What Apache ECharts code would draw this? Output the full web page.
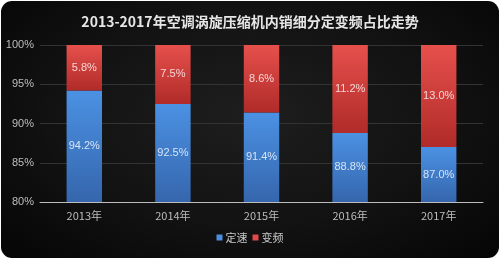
<!DOCTYPE html>
<html><head><meta charset="utf-8">
<script src="https://cdn.jsdelivr.net/npm/echarts@6/dist/echarts.min.js"></script>
<style>
html,body{margin:0;padding:0;background:#fff;}
#wrap{position:absolute;left:1px;top:1px;width:498px;height:257px;border-radius:11px;overflow:hidden;
background:radial-gradient(ellipse at 50% 45%, #1e1e1e 0%, #121212 55%, #050505 100%);}
#c{width:498px;height:257px;}
</style></head>
<body><div id="wrap"><div id="c"></div></div>
<script>
const categories = ['2013年','2014年','2015年','2016年','2017年'];
const fixedSpeed = [94.2, 92.5, 91.4, 88.8, 87.0];
const inverter = [5.8, 7.5, 8.6, 11.2, 13.0];
const seriesNames = ['定速','变频'];

const chart = echarts.init(document.getElementById('c'), null, {renderer:'canvas'});
const blueGrad = new echarts.graphic.LinearGradient(0,0,0,1,[{offset:0,color:'#4b91e3'},{offset:1,color:'#3566ad'}]);
const redGrad = new echarts.graphic.LinearGradient(0,0,0,1,[{offset:0,color:'#e6504c'},{offset:1,color:'#b02b29'}]);
chart.setOption({
  backgroundColor:'transparent',
  animation:false,
  title:{text:'2013-2017年空调涡旋压缩机内销细分定变频占比走势',left:'center',top:9,
    textStyle:{color:'#e6e6e6',fontSize:14,fontWeight:'bold',fontFamily:'Noto Sans CJK SC'}},
  legend:{bottom:10,left:'center',itemWidth:6,itemHeight:6,itemGap:5,icon:'rect',
    textStyle:{color:'#c8c8c8',fontSize:11,fontFamily:'Noto Sans CJK SC',padding:[0,0,0,-2]},
    data:[{name:seriesNames[0],itemStyle:{color:'#4a8ee0'}},{name:seriesNames[1],itemStyle:{color:'#e04a48'}}]},
  grid:{left:39,right:16,top:44,bottom:56},
  xAxis:{type:'category',data:categories,
    axisLine:{lineStyle:{color:'#bdbdbd',width:1}},axisTick:{show:false},
    axisLabel:{color:'#bdbdbd',fontSize:11,margin:8,fontFamily:'Noto Sans CJK SC'}},
  yAxis:{type:'value',min:80,max:100,interval:5,
    axisLabel:{formatter:'{value}%',color:'#bdbdbd',fontSize:11,margin:6,fontFamily:'Liberation Sans'},
    splitLine:{lineStyle:{color:'#333333',width:1}},axisLine:{show:false},axisTick:{show:false}},
  series:[
    {name:seriesNames[0],type:'bar',stack:'a',data:fixedSpeed,barWidth:'40%',
     itemStyle:{color:blueGrad},
     label:{show:true,position:'inside',formatter:p=>p.value.toFixed(1)+'%',color:'#d6e4f5',fontSize:11,fontFamily:'Liberation Sans'}},
    {name:seriesNames[1],type:'bar',stack:'a',data:inverter,barWidth:'40%',
     itemStyle:{color:redGrad},
     label:{show:true,position:'inside',formatter:p=>p.value.toFixed(1)+'%',color:'#f5d6d4',fontSize:11,fontFamily:'Liberation Sans'}}
  ]
});
</script></body></html>
